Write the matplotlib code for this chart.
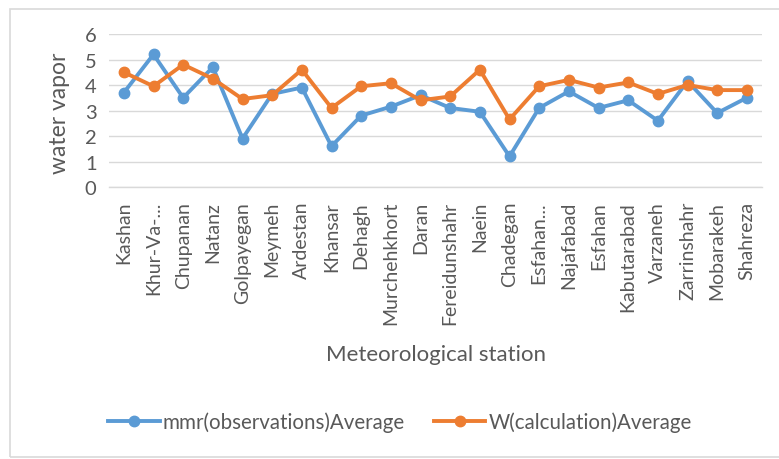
import matplotlib
matplotlib.use("Agg")
import matplotlib.pyplot as plt
from matplotlib.patches import Rectangle

# Meteorological stations and their water vapor averages
stations = [
    "Kashan", "Khur-Va-...", "Chupanan", "Natanz", "Golpayegan", "Meymeh",
    "Ardestan", "Khansar", "Dehagh", "Murchehkhort", "Daran", "Fereidunshahr",
    "Naein", "Chadegan", "Esfahan...", "Najafabad", "Esfahan", "Kabutarabad",
    "Varzaneh", "Zarrinshahr", "Mobarakeh", "Shahreza",
]
mmr_obs = [3.7, 5.2, 3.5, 4.7, 1.9, 3.65, 3.9, 1.6, 2.8, 3.15, 3.6, 3.1,
           2.95, 1.2, 3.1, 3.75, 3.1, 3.4, 2.6, 4.15, 2.9, 3.5]
w_calc = [4.5, 3.95, 4.8, 4.25, 3.45, 3.6, 4.6, 3.1, 3.95, 4.07, 3.4, 3.55,
          4.6, 2.65, 3.95, 4.2, 3.9, 4.1, 3.65, 4.0, 3.8, 3.8]
y_ticks = [0, 1, 2, 3, 4, 5, 6]

plt.rcParams["font.family"] = ["Lato", "DejaVu Sans"]
text_color = "#595959"
grid_color = "#D9D9D9"

W, H = 779, 460
fig = plt.figure(figsize=(W / 100, H / 100), dpi=100)
ax = fig.add_axes([109 / W, 1 - 188 / H, 652.7 / W, 153 / H])

x = list(range(len(stations)))
ax.plot(x, mmr_obs, color="#5B9BD5", lw=2.8, marker="o", ms=7.5,
        label="mmr(observations)Average", zorder=3)
ax.plot(x, w_calc, color="#ED7D31", lw=2.8, marker="o", ms=7.5,
        label="W(calculation)Average", zorder=3)

ax.set_xlim(-0.5, len(stations) - 0.5)
ax.set_ylim(0, 6)
ax.set_yticks(y_ticks)
ax.set_xticks(x)
ax.set_xticklabels(stations, rotation=90, ha="center", va="top")
ax.tick_params(axis="x", length=0, labelsize=14, colors=text_color, pad=10)
ax.tick_params(axis="y", length=0, labelsize=14.5, colors=text_color, pad=9)

ax.grid(axis="y", color=grid_color, lw=1.0)
ax.set_axisbelow(True)
for side in ("top", "right", "left"):
    ax.spines[side].set_visible(False)
ax.spines["bottom"].set_color(grid_color)
ax.spines["bottom"].set_linewidth(1.0)

# axis titles placed in figure pixels
fig.text(60 / W, 1 - 113 / H, "water vapor", rotation=90, ha="center",
         va="center", fontsize=16.5, color=text_color)
fig.text(436 / W, 1 - 355 / H, "Meteorological station", ha="center",
         va="center", fontsize=16, color=text_color)

fig.legend(loc="center", bbox_to_anchor=(400 / W, 1 - 423 / H), ncol=2,
           frameon=False, fontsize=14.8, handlelength=2.5, handletextpad=0.15,
           columnspacing=1.4, labelcolor=text_color)

# light chart-area frame
fig.patches.append(Rectangle((10 / W, 2 / H), 1.0, 448 / H,
                             transform=fig.transFigure, fill=False,
                             edgecolor=grid_color, lw=1.2))

fig.savefig("out.png", dpi=100, facecolor="white")
